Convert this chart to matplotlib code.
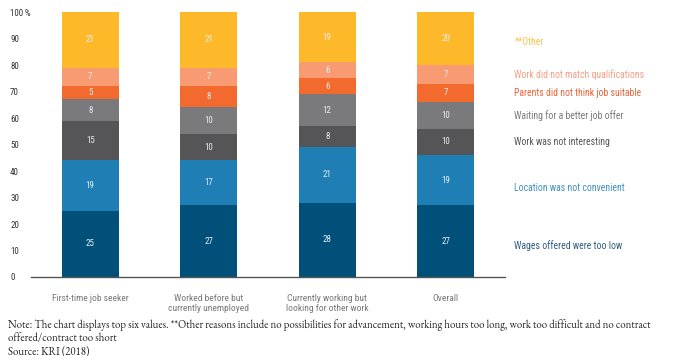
import matplotlib.pyplot as plt
import numpy as np

# condensed sans for the chart, serif for the note
plt.rcParams['font.family'] = ['Roboto Condensed', 'DejaVu Sans']

groups = ['First-time job seeker', 'Worked before but\ncurrently unemployed',
          'Currently working but\nlooking for other work', 'Overall']
reasons = ['Wages offered were too low', 'Location was not convenient',
           'Work was not interesting', 'Waiting for a better job offer',
           'Parents did not think job suitable', 'Work did not match qualifications',
           '**Other']
wages = [25, 27, 28, 27]
location = [19, 17, 21, 19]
not_interesting = [15, 10, 8, 10]
waiting = [8, 10, 12, 10]
parents = [5, 8, 6, 7]
qualifications = [7, 7, 6, 7]
other = [21, 21, 19, 20]

colors = ['#00507a', '#1f7fb5', '#555557', '#7a7a7d', '#f26a2e', '#f89a72', '#fdb92a']
text_colors = ['#2f5f80', '#3f8fc0', '#555557', '#7a7a7d', '#e8643a', '#f4a085', '#fcc24a']
# small nudges so the right-hand labels sit where the original has them
label_shift = [-1.5, -3, 0, 0, 0, 0, -1.5]

series = [wages, location, not_interesting, waiting, parents, qualifications, other]

fig = plt.figure(figsize=(6.73, 3.56), dpi=100)
ax = fig.add_axes([31 / 673, 79 / 356, 474 / 673, 265 / 356])

x = np.arange(len(groups))
bottom = np.zeros(len(groups))
for vals, c in zip(series, colors):
    vals = np.array(vals)
    bars = ax.bar(x, vals, 0.48, bottom=bottom, color=c)
    for b, v in zip(bars, vals):
        ax.text(b.get_x() + b.get_width() / 2, b.get_y() + v / 2, str(v),
                ha='center', va='center', fontsize=6.5, color='#e6edf3')
    bottom += vals

# labels to the right of the Overall bar
bottom = 0
for name, vals, tc, dy in zip(reasons, series, text_colors, label_shift):
    ax.text(3.58, bottom + vals[-1] / 2 + dy, name, ha='left', va='center',
            fontsize=7, color=tc, clip_on=False)
    bottom += vals[-1]

ax.set_xlim(-0.5, 3.5)
ax.set_ylim(0, 100)
ax.set_yticks(range(0, 101, 10))
ax.set_yticklabels([str(v) for v in range(0, 100, 10)] + ['100\u2009%'])
ax.set_xticks(x)
ax.set_xticklabels(groups)
ax.tick_params(axis='y', length=0, pad=15, labelsize=6.5, labelcolor='#333333')
ax.tick_params(axis='x', length=0, pad=12, labelsize=6.8, labelcolor='#777777')
for lab in ax.get_yticklabels():
    lab.set_horizontalalignment('left')
for s in ['top', 'right', 'left']:
    ax.spines[s].set_visible(False)
ax.spines['bottom'].set_color('#555555')
ax.spines['bottom'].set_linewidth(1)

note = ('Note: The chart displays top six values. **Other reasons include no possibilities for advancement, '
        'working hours too long, work too difficult and no contract\noffered/contract too short\nSource: KRI (2018)')
fig.text(8 / 673, 1 - 319 / 356, note, ha='left', va='top', fontsize=7.8,
         family=['EB Garamond', 'Liberation Serif'], color='#222222', linespacing=1.2)

fig.savefig('out.png', dpi=100)
